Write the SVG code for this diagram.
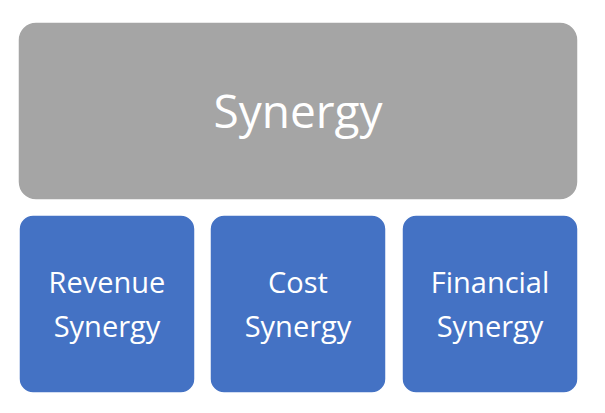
<svg xmlns="http://www.w3.org/2000/svg" width="605" height="413" viewBox="0 0 605 413">
<style>
.b{fill:#4472c4;stroke:#ffffff;stroke-width:1.5}
.t{font-family:"Open Sans","Liberation Sans",sans-serif;fill:#ffffff;text-anchor:middle}
.s{font-size:29px}
</style>
<rect width="605" height="413" fill="#ffffff"/>
<g id="synergy"><rect x="18" y="22" width="560" height="178" rx="18" fill="#a5a5a5" stroke="#ffffff" stroke-width="1.5"/>
<text class="t" x="298" y="128" font-size="46">Synergy</text></g>
<g id="revenue"><rect class="b" x="19" y="215" width="176" height="178" rx="14"/>
<text class="t s" x="107" y="293">Revenue</text><text class="t s" x="107" y="337">Synergy</text></g>
<g id="cost"><rect class="b" x="210" y="215" width="176" height="178" rx="14"/>
<text class="t s" x="298" y="293">Cost</text><text class="t s" x="298" y="337">Synergy</text></g>
<g id="financial"><rect class="b" x="402" y="215" width="176" height="178" rx="14"/>
<text class="t s" x="490" y="293">Financial</text><text class="t s" x="490" y="337">Synergy</text></g>
<g id="connectors"/>
</svg>
